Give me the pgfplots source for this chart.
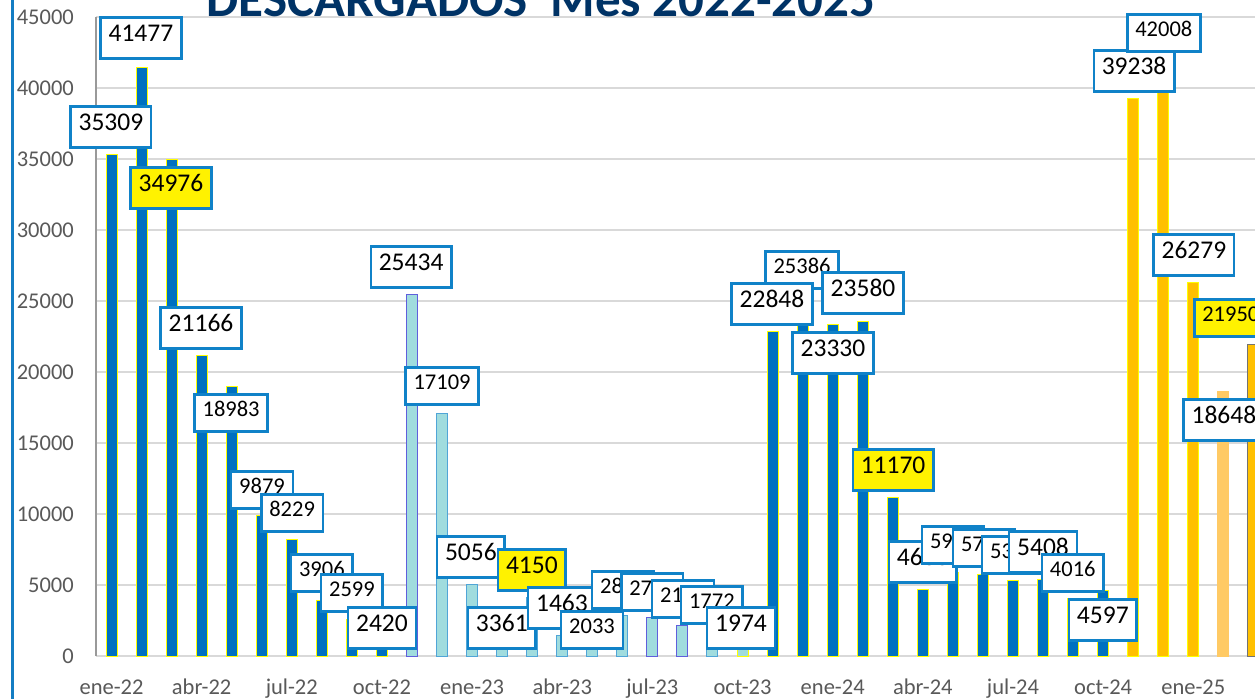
\documentclass[border=0pt]{standalone}
\usepackage{fontspec}
\setmainfont{Carlito}
\usepackage{pgfplots}
\pgfplotsset{compat=1.18}

\definecolor{barblue}{RGB}{0,112,192}
\definecolor{barcyan}{RGB}{160,220,222}
\definecolor{cyanedge}{RGB}{80,165,215}
\definecolor{violetedge}{RGB}{95,95,220}
\definecolor{barorange}{RGB}{255,192,0}
\definecolor{lightorange}{RGB}{255,202,100}
\definecolor{edgeyellow}{RGB}{255,255,0}
\definecolor{boxblue}{RGB}{16,130,200}
\definecolor{frameblue}{RGB}{20,125,195}
\definecolor{navy}{RGB}{0,51,102}
\definecolor{gridgray}{RGB}{217,217,217}
\definecolor{ticktext}{RGB}{89,89,89}

\tikzset{
  lb/.style={draw=boxblue, line width=2.5pt, fill=white, text=black,
    inner xsep=8pt, inner ysep=0pt, text height=0.64em, text depth=0pt,
    minimum height=41pt, font=\fontsize{25.5}{30}\selectfont},
  ls/.style={lb, minimum height=37pt, font=\fontsize{22.5}{27}\selectfont},
  hl/.style={fill=yellow},
}

\begin{document}
\begin{tikzpicture}
\useasboundingbox (0,0) rectangle (1255pt,-699pt);
\clip (0,0) rectangle (1255pt,-699pt);
\fill[white] (0,0) rectangle (1255pt,-699pt);
\draw[line width=3pt, frameblue] (12.5pt,0) -- (12.5pt,-699pt);
\begin{axis}[
  at={(96pt,-656pt)}, anchor=south west,
  scale only axis, width=1172.4pt, height=639pt,
  xmin=-0.516, xmax=38.5, ymin=0, ymax=45000,
  clip=false,
  axis x line*=bottom, axis y line*=left,
  x axis line style={gridgray, line width=2pt},
  y axis line style={black!40, line width=1.5pt},
  major tick length=0pt,
  ytick={0,5000,...,45000},
  ymajorgrids, grid style={gridgray, line width=1.5pt},
  scaled y ticks=false,
  /pgf/number format/1000 sep={},
  /pgf/number format/assume math mode=true,
  yticklabel style={font=\fontsize{22.5}{27}\selectfont, text=ticktext,
    anchor=east, inner sep=0pt, xshift=-22pt},
  xtick={0,3,...,36},
  xticklabels={ene-22,abr-22,jul-22,oct-22,ene-23,abr-23,jul-23,oct-23,
    ene-24,abr-24,jul-24,oct-24,ene-25},
  xticklabel style={font=\fontsize{22.5}{27}\selectfont, text=ticktext,
    anchor=base, inner sep=0pt, yshift=-38pt},
  title={DESCARGADOS\ \ Mes 2022-2025},
  title style={at={(axis description cs:0.3796,1)}, anchor=base, yshift=-5pt,
    font=\fontsize{51}{56}\selectfont\bfseries, text=navy},
]
% 2022 and nov-23 to oct-24: dark blue
\addplot[ybar, bar shift=0pt, bar width=11pt, fill=barblue, draw=edgeyellow, line width=1pt]
  coordinates {(0,35309) (1,41477) (2,34976) (3,21166) (4,18983) (5,9879)
    (6,8229) (7,3906) (8,2599) (9,2420)
    (22,22848) (23,25386) (24,23330) (25,23580) (26,11170) (27,4688)
    (28,5915) (29,5775) (30,5330) (31,5408) (32,4016) (33,4597)};
% nov-22
\addplot[ybar, bar shift=0pt, bar width=11pt, fill=barcyan, draw=violetedge, line width=1pt]
  coordinates {(10,25434)};
% dic-22 to sep-23
\addplot[ybar, bar shift=0pt, bar width=11pt, fill=barcyan, draw=cyanedge, line width=1pt]
  coordinates {(11,17109) (12,5056) (13,3361) (14,4150) (15,1463) (16,2033)
    (17,2834) (20,1772)};
\addplot[ybar, bar shift=0pt, bar width=11pt, fill=barcyan, draw=violetedge, line width=1pt]
  coordinates {(18,2712) (19,2140)};
\addplot[ybar, bar shift=0pt, bar width=11pt, fill=barcyan, draw=edgeyellow, line width=1pt]
  coordinates {(21,1974)};
% nov-24 onwards
\addplot[ybar, bar shift=0pt, bar width=11pt, fill=barorange, draw=edgeyellow, line width=1pt]
  coordinates {(34,39238) (35,42008) (36,26279)};
\addplot[ybar, bar shift=0pt, bar width=11pt, fill=lightorange, draw=lightorange, line width=1pt]
  coordinates {(37,18648)};
\addplot[ybar, bar shift=0pt, bar width=11pt, fill=barorange, draw=black!55, line width=1pt]
  coordinates {(38,21950)};

% data labels
\node[lb] at (axis cs:-0.02,37254) {35309};
\node[lb] at (axis cs:0.98,43521) {41477};
\node[lb,hl] at (axis cs:1.98,32958) {34976};
\node[lb] at (axis cs:2.98,23099) {21166};
\node[ls] at (axis cs:3.98,17113) {18983};
\node[ls] at (axis cs:5.01,11690) {9879};
\node[ls] at (axis cs:6.01,10070) {8229};
\node[ls] at (axis cs:7.00,5845) {3906};
\node[ls] at (axis cs:8.00,4437) {2599};
\node[lb] at (axis cs:9.00,1972) {2420};
\node[lb] at (axis cs:9.97,27394) {25434};
\node[ls] at (axis cs:11.0,19014) {17109};
\node[lb] at (axis cs:11.96,6972) {5056};
\node[lb] at (axis cs:12.99,1972) {3361};
\node[lb,hl] at (axis cs:13.99,6056) {4150};
\node[lb] at (axis cs:14.99,3380) {1463};
\node[ls] at (axis cs:15.99,1831) {2033};
\node[ls] at (axis cs:17.02,4648) {2834};
\node[ls] at (axis cs:17.99,4507) {2712};
\node[ls] at (axis cs:19.02,4014) {2140};
\node[ls] at (axis cs:19.98,3592) {1772};
\node[lb] at (axis cs:20.95,1972) {1974};
\node[ls] at (axis cs:22.98,27183) {25386};
\node[lb] at (axis cs:21.98,24789) {22848};
\node[lb] at (axis cs:24.01,21338) {23330};
\node[lb] at (axis cs:25.01,25563) {23580};
\node[lb,hl] at (axis cs:26.01,13099) {11170};
\node[lb] at (axis cs:27.0,6620) {4688};
\node[ls] at (axis cs:28.0,7817) {5915};
\node[ls] at (axis cs:29.03,7606) {5775};
\node[ls] at (axis cs:30.0,7113) {5330};
\node[lb] at (axis cs:31.0,7324) {5408};
\node[ls] at (axis cs:31.99,5845) {4016};
\node[lb] at (axis cs:32.99,2535) {4597};
\node[lb] at (axis cs:34.03,41197) {39238};
\node[ls] at (axis cs:35.02,43873) {42008};
\node[lb] at (axis cs:36.02,28239) {26279};
\node[lb] at (axis cs:37.02,16620) {18648};
\node[ls,hl] at (axis cs:37.25,23803) {21950};
\end{axis}
\end{tikzpicture}
\end{document}
